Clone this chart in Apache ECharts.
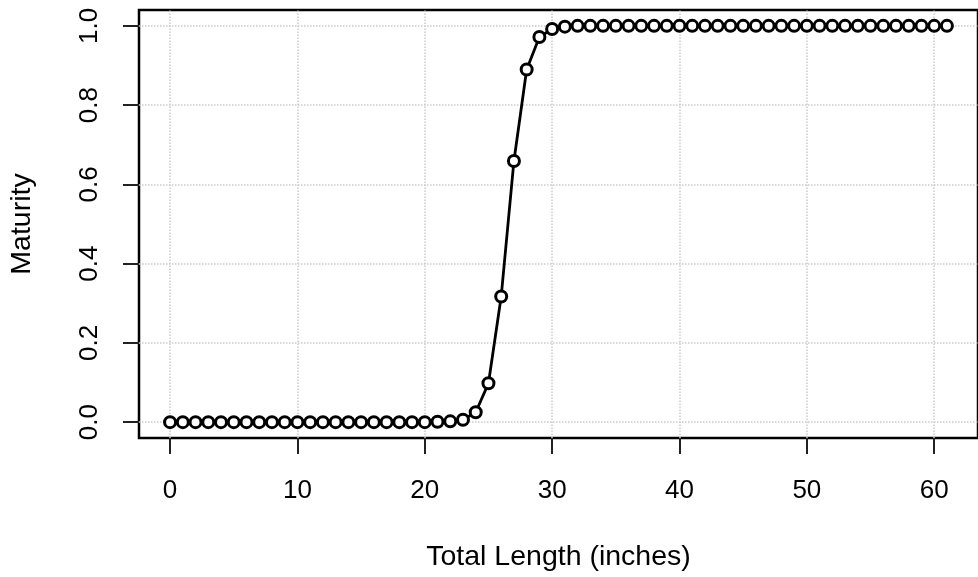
<!DOCTYPE html>
<html>
<head>
<meta charset="utf-8">
<script src="https://cdn.jsdelivr.net/npm/echarts@6/dist/echarts.min.js"></script>
<style>
  html, body { margin: 0; padding: 0; background: #fff; }
  #chart { width: 978px; height: 577px; }
</style>
</head>
<body>
<div id="chart"></div>
<script>
/* Veri: toplam boy (inç) ve olgunluk oranı */
const lengths = [
  0, 1, 2, 3, 4, 5, 6, 7, 8, 9, 10, 11, 12, 13, 14, 15, 16, 17, 18, 19, 20,
  21, 22, 23, 24, 25, 26, 27, 28, 29, 30, 31, 32, 33, 34, 35, 36, 37, 38, 39,
  40, 41, 42, 43, 44, 45, 46, 47, 48, 49, 50, 51, 52, 53, 54, 55, 56, 57, 58,
  59, 60, 61
];
const maturity = [
  0, 0, 0, 0, 0, 0, 0, 0, 0, 0, 0, 0, 0, 0, 0, 0, 0, 0, 0, 0, 0,
  0.001, 0.002, 0.006, 0.025, 0.098, 0.317, 0.659, 0.890, 0.972, 0.992, 0.998,
  1, 1, 1, 1, 1, 1, 1, 1, 1, 1, 1, 1, 1, 1, 1, 1, 1, 1, 1, 1, 1, 1, 1, 1, 1,
  1, 1, 1, 1, 1
];
const xTicks = [0, 10, 20, 30, 40, 50, 60];
const yTicks = [0, 0.2, 0.4, 0.6, 0.8, 1.0];

const FONT = '"Liberation Sans", Arial, sans-serif';
const gridLine = { type: 'dotted', color: '#cccccc', width: 1.5 };

const chart = echarts.init(document.getElementById('chart'), null, { renderer: 'canvas' });

chart.setOption({
  animation: false,
  backgroundColor: '#fff',
  textStyle: { fontFamily: FONT },
  grid: {
    left: 138, top: 10, right: -10, bottom: 138,
    show: true, borderColor: '#000', borderWidth: 2.5,
    containLabel: false
  },
  xAxis: {
    type: 'value',
    min: -2.44, max: 63.44,
    name: 'Total Length (inches)',
    nameLocation: 'middle',
    nameGap: 105,
    nameTextStyle: { fontSize: 28.5, color: '#000', fontFamily: FONT },
    axisLine: { show: false, onZero: false },
    splitLine: { show: false },
    axisTick: {
      show: true, length: 16, customValues: xTicks,
      lineStyle: { color: '#222', width: 2, type: 'solid' }
    },
    axisLabel: {
      customValues: xTicks, margin: 40,
      fontSize: 26, color: '#000', fontFamily: FONT
    }
  },
  yAxis: {
    type: 'value',
    min: -0.04, max: 1.04,
    name: 'Maturity',
    nameLocation: 'middle',
    nameGap: 102,
    nameTextStyle: { fontSize: 28.5, color: '#000', fontFamily: FONT },
    axisLine: { show: false, onZero: false },
    splitLine: { show: false },
    axisTick: {
      show: true, length: 16, customValues: yTicks,
      lineStyle: { color: '#222', width: 2, type: 'solid' }
    },
    axisLabel: {
      customValues: yTicks, margin: 36, rotate: 90,
      fontSize: 26, color: '#000', fontFamily: FONT,
      formatter: (v) => v.toFixed(1)
    }
  },
  series: [
    {
      type: 'line',
      data: lengths.map((x, i) => [x, maturity[i]]),
      symbol: 'circle',
      symbolSize: 11,
      showAllSymbol: true,
      lineStyle: { color: '#000', width: 2.8 },
      itemStyle: { color: '#fff', borderColor: '#000', borderWidth: 3 },
      emphasis: { disabled: true },
      z: 3,
      markLine: {
        silent: true,
        symbol: 'none',
        label: { show: false },
        lineStyle: gridLine,
        z: 1,
        data: xTicks.map((v) => ({ xAxis: v }))
          .concat(yTicks.map((v) => ({ yAxis: v })))
      }
    }
  ]
});
</script>
</body>
</html>
